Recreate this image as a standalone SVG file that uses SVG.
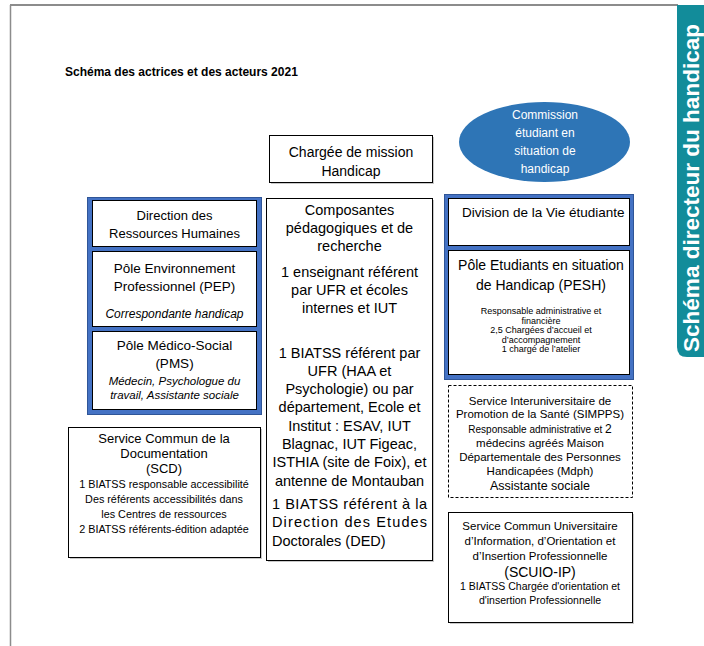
<svg xmlns="http://www.w3.org/2000/svg" width="704" height="646" viewBox="0 0 704 646">
<style>
text{font-family:"Liberation Sans",Arial,sans-serif;fill:#000}
.c{text-anchor:middle}
.box{fill:#fff;stroke:#000;stroke-width:1}
.blue{fill:#4472C4;stroke:#2F5597;stroke-width:1}
.t13{font-size:13px}
.t14{font-size:14.5px}
.it{font-style:italic}
.sh{fill:#c8c8c8}
</style>
<rect x="0" y="0" width="704" height="646" fill="#fff"/>
<g id="frame">
<line x1="10" y1="5" x2="678" y2="5" stroke="#8c8c8c" stroke-width="2"/>
<line x1="10.5" y1="5" x2="10.5" y2="646" stroke="#8c8c8c" stroke-width="1.5"/>
</g>
<g id="side-tab">
<path d="M677,5 H704 V357 H687 Q677,357 677,347 Z" fill="#128C9A"/>
<text transform="translate(698.5,352) rotate(-90)" font-size="22.5" font-weight="bold" style="fill:#fff" textLength="328" lengthAdjust="spacingAndGlyphs">Schéma directeur du handicap</text>
</g>
<g id="title">
<text x="65" y="76" font-size="12" font-weight="bold">Schéma des actrices et des acteurs 2021</text>
</g>
<g id="connectors"></g>

<g id="rh-group">
<rect class="blue" x="87.5" y="197.5" width="174" height="217"/>
<g id="drh">
<rect class="box" x="92.5" y="200.5" width="164" height="46"/>
<text class="c t13" x="174.5" y="220">Direction des</text>
<text class="c t13" x="174.5" y="238">Ressources Humaines</text>
</g>
<g id="pep">
<rect class="box" x="92.5" y="251.5" width="164" height="75"/>
<text class="c" font-size="13.5" x="174.5" y="273">Pôle Environnement</text>
<text class="c" font-size="13.5" x="174.5" y="291">Professionnel (PEP)</text>
<text class="c it" font-size="12" x="174.5" y="318">Correspondante handicap</text>
</g>
<g id="pms">
<rect class="box" x="92.5" y="331.5" width="164" height="78"/>
<text class="c" font-size="13.5" x="174.5" y="350">Pôle Médico-Social</text>
<text class="c" font-size="13.5" x="174.5" y="368">(PMS)</text>
<text class="c it" font-size="11.5" x="174.5" y="385">Médecin, Psychologue du</text>
<text class="c it" font-size="11.5" x="174.5" y="399">travail, Assistante sociale</text>
</g>
</g>
<g id="scd">
<rect class="sh" x="70" y="429" width="192" height="130"/>
<rect class="box" x="68.5" y="427.5" width="192" height="130"/>
<text class="c t13" x="164" y="443">Service Commun de la</text>
<text class="c t13" x="164" y="458">Documentation</text>
<text class="c t13" x="164" y="473">(SCD)</text>
<text class="c" font-size="10.8" x="164" y="488">1 BIATSS responsable accessibilité</text>
<text class="c" font-size="10.8" x="164" y="503">Des référents accessibilités dans</text>
<text class="c" font-size="10.8" x="164" y="518">les Centres de ressources</text>
<text class="c" font-size="10.8" x="164" y="533">2 BIATSS référents-édition adaptée</text>
</g>

<g id="charge-mission">
<rect class="sh" x="271" y="137" width="163" height="47"/>
<rect class="box" x="269.5" y="135.5" width="163" height="47"/>
<text class="c" font-size="14" x="351" y="157">Chargée de mission</text>
<text class="c" font-size="14" x="351" y="176">Handicap</text>
</g>
<g id="composantes">
<rect class="sh" x="268" y="200" width="166" height="362"/>
<rect class="box" x="266.5" y="198.5" width="166" height="362"/>
<text class="c t14" x="349.5" y="215">Composantes</text>
<text class="c t14" x="349.5" y="233">pédagogiques et de</text>
<text class="c t14" x="349.5" y="251">recherche</text>
<text class="c t14" x="349.5" y="277">1 enseignant référent</text>
<text class="c t14" x="349.5" y="295">par UFR et écoles</text>
<text class="c t14" x="349.5" y="313">internes et IUT</text>
<text class="c t14" x="349.5" y="358">1 BIATSS référent par</text>
<text class="c t14" x="349.5" y="376">UFR (HAA et</text>
<text class="c t14" x="349.5" y="394">Psychologie) ou par</text>
<text class="c t14" x="349.5" y="412">département, Ecole et</text>
<text class="c t14" x="349.5" y="431">Institut : ESAV, IUT</text>
<text class="c t14" x="349.5" y="449">Blagnac, IUT Figeac,</text>
<text class="c t14" x="349.5" y="467">ISTHIA (site de Foix), et</text>
<text class="c t14" x="349.5" y="486">antenne de Montauban</text>
<text class="t14" x="272" y="509" textLength="155" lengthAdjust="spacing">1 BIATSS référent à la</text>
<text class="t14" x="272" y="527" textLength="155" lengthAdjust="spacing">Direction des Etudes</text>
<text class="t14" x="272" y="546">Doctorales (DED)</text>
</g>

<g id="commission">
<ellipse cx="544.5" cy="142" rx="85.5" ry="40" fill="#2E75B6"/>
<text class="c" font-size="12" x="545" y="119" style="fill:#fff">Commission</text>
<text class="c" font-size="12" x="545" y="137" style="fill:#fff">étudiant en</text>
<text class="c" font-size="12" x="545" y="155" style="fill:#fff">situation de</text>
<text class="c" font-size="12" x="545" y="173" style="fill:#fff">handicap</text>
</g>
<g id="dve-group">
<rect class="blue" x="444.5" y="194.5" width="189" height="185"/>
<g id="dve">
<rect class="box" x="448.5" y="198.5" width="181" height="47"/>
<text font-size="13.5" x="462" y="217">Division de la Vie étudiante</text>
</g>
<g id="pesh">
<rect class="box" x="448.5" y="250.5" width="181" height="124"/>
<text class="c" font-size="14" x="541" y="270">Pôle Etudiants en situation</text>
<text class="c" font-size="14" x="541" y="290">de Handicap (PESH)</text>
<text class="c" font-size="9" x="541" y="314">Responsable administrative et</text>
<text class="c" font-size="9" x="541" y="323.5">financière</text>
<text class="c" font-size="9" x="541" y="333">2,5 Chargées d’accueil et</text>
<text class="c" font-size="9" x="541" y="342.5">d’accompagnement</text>
<text class="c" font-size="9" x="541" y="352">1 chargé de l’atelier</text>
</g>
</g>
<g id="simpps">
<rect x="448.5" y="385.5" width="184" height="112" fill="#fff" stroke="#000" stroke-width="1" stroke-dasharray="3,2"/>
<text class="c" font-size="11.5" x="540" y="405">Service Interuniversitaire de</text>
<text class="c" font-size="11.5" x="540" y="418">Promotion de la Santé (SIMPPS)</text>
<text class="c" font-size="10" x="540" y="433">Responsable administrative et <tspan font-size="12">2</tspan></text>
<text class="c" font-size="11.5" x="540" y="447">médecins agréés Maison</text>
<text class="c" font-size="11.5" x="540" y="461">Départementale des Personnes</text>
<text class="c" font-size="11.5" x="540" y="475">Handicapées (Mdph)</text>
<text class="c" font-size="12.5" x="540" y="490">Assistante sociale</text>
</g>
<g id="scuio">
<rect class="sh" x="450" y="514" width="184" height="110"/>
<rect class="box" x="448.5" y="512.5" width="184" height="110"/>
<text class="c" font-size="11.5" x="540" y="530">Service Commun Universitaire</text>
<text class="c" font-size="11.5" x="540" y="545">d’Information, d’Orientation et</text>
<text class="c" font-size="11.5" x="540" y="560">d’Insertion Professionnelle</text>
<text class="c" font-size="14" x="540" y="577">(SCUIO-IP)</text>
<text class="c" font-size="10.5" x="540" y="590">1 BIATSS Chargée d'orientation et</text>
<text class="c" font-size="10.5" x="540" y="604">d'insertion  Professionnelle</text>
</g>
</svg>
